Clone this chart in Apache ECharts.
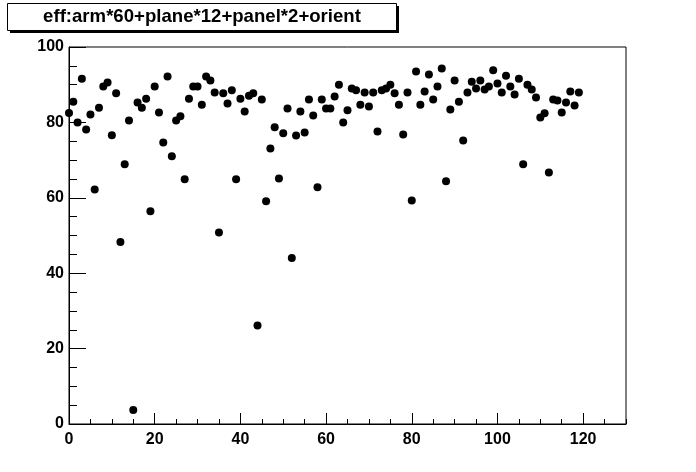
<!DOCTYPE html>
<html>
<head>
<meta charset="utf-8">
<script src="https://cdn.jsdelivr.net/npm/echarts@6/dist/echarts.min.js"></script>
<style>
html,body{margin:0;padding:0;background:#fff;}
#chart{width:696px;height:472px;}
</style>
</head>
<body>
<div id="chart"></div>
<script>
// channel index: arm*60+plane*12+panel*2+orient
var channels = [
  0,1,2,3,4,5,6,7,8,9,
  10,11,12,13,14,15,16,17,18,19,
  20,21,22,23,24,25,26,27,28,29,
  30,31,32,33,34,35,36,37,38,39,
  40,41,42,43,44,45,46,47,48,49,
  50,51,52,53,54,55,56,57,58,59,
  60,61,62,63,64,65,66,67,68,69,
  70,71,72,73,74,75,76,77,78,79,
  80,81,82,83,84,85,86,87,88,89,
  90,91,92,93,94,95,96,97,98,99,
  100,101,102,103,104,105,106,107,108,109,
  110,111,112,113,114,115,116,117,118,119
];
var effValues = [
  82.5, 85.5, 80.0, 91.6, 78.1, 82.1, 62.2, 83.9, 89.5, 90.6,
  76.6, 87.7, 48.3, 68.9, 80.5, 3.7, 85.3, 83.9, 86.3, 56.4,
  89.5, 82.6, 74.7, 92.2, 71.0, 80.5, 81.6, 64.9, 86.3, 89.5,
  89.5, 84.7, 92.2, 91.1, 87.9, 50.8, 87.7, 85.0, 88.5, 64.9,
  86.3, 82.9, 87.1, 87.7, 26.1, 86.1, 59.1, 73.1, 78.7, 65.1,
  77.1, 83.7, 44.0, 76.5, 82.9, 77.3, 86.1, 81.8, 62.8, 86.1,
  83.7, 83.7, 86.9, 90.0, 80.0, 83.2, 89.0, 88.5, 84.7, 87.9,
  84.2, 87.9, 77.6, 88.5, 89.0, 90.0, 87.7, 84.7, 76.8, 87.9,
  59.3, 93.5, 84.7, 88.2, 92.7, 86.1, 89.5, 94.3, 64.4, 83.4,
  91.1, 85.5, 75.2, 87.9, 90.8, 89.0, 91.1, 88.7, 89.5, 93.8,
  90.3, 87.9, 92.4, 89.5, 87.4, 91.6, 68.9, 90.0, 88.7, 86.6,
  81.3, 82.4, 66.7, 86.1, 85.8, 82.6, 85.3, 88.2, 84.5, 87.9
];
var xTickLabels = [0, 20, 40, 60, 80, 100, 120];
var yTickLabels = [0, 20, 40, 60, 80, 100];
var titleText = 'eff:arm*60+plane*12+panel*2+orient';

var points = [];
for (var i = 0; i < channels.length; i++) points.push([channels[i], effValues[i]]);

var labelFont = {color:'#000', fontFamily:'Liberation Sans, Arial, sans-serif', fontWeight:'bold', fontSize:16};

var chart = echarts.init(document.getElementById('chart'), null, {renderer:'canvas'});
chart.setOption({
  animation: false,
  backgroundColor: '#fff',
  grid: {left:69, right:70, top:47, bottom:48, show:true, borderColor:'#000', borderWidth:1, backgroundColor:'#fff'},
  xAxis: [
    {type:'value', min:0, max:130, interval:20,
     axisLine:{show:true, lineStyle:{color:'#000', width:1}},
     axisTick:{show:true, inside:true, length:11, lineStyle:{color:'#000', width:1},
               customValues: xTickLabels},
     axisLabel:Object.assign({margin:8, customValues: xTickLabels}, labelFont),
     splitLine:{show:false}},
    {type:'value', min:0, max:130, interval:5, position:'bottom',
     axisLine:{show:false},
     axisTick:{show:true, inside:true, length:5, lineStyle:{color:'#000', width:1}},
     axisLabel:{show:false}, splitLine:{show:false}}
  ],
  yAxis: {type:'value', min:0, max:100, interval:20,
     axisLine:{show:true, lineStyle:{color:'#000', width:1}},
     axisTick:{show:true, inside:true, length:17, lineStyle:{color:'#000', width:1}},
     minorTick:{show:true, splitNumber:4, length:8, lineStyle:{color:'#000', width:1}},
     axisLabel:Object.assign({margin:5, customValues: yTickLabels}, labelFont),
     splitLine:{show:false}, minorSplitLine:{show:false}},
  series: [{
    type:'scatter', xAxisIndex:0, yAxisIndex:0, data: points,
    symbol:'circle', symbolSize:8, itemStyle:{color:'#000', opacity:1}, silent:true
  }],
  graphic: [
    {type:'rect', shape:{x:10, y:6, width:389, height:27}, style:{fill:'#000'}, z:10},
    {type:'rect', shape:{x:7.5, y:3.5, width:389, height:27}, style:{fill:'#fff', stroke:'#000', lineWidth:1}, z:11},
    {type:'text', x:202, y:17, z:12,
     style:{text:titleText, textAlign:'center', textVerticalAlign:'middle',
            font:'bold 18.6px "Liberation Sans", Arial, sans-serif', fill:'#000'}}
  ]
});
</script>
</body>
</html>
